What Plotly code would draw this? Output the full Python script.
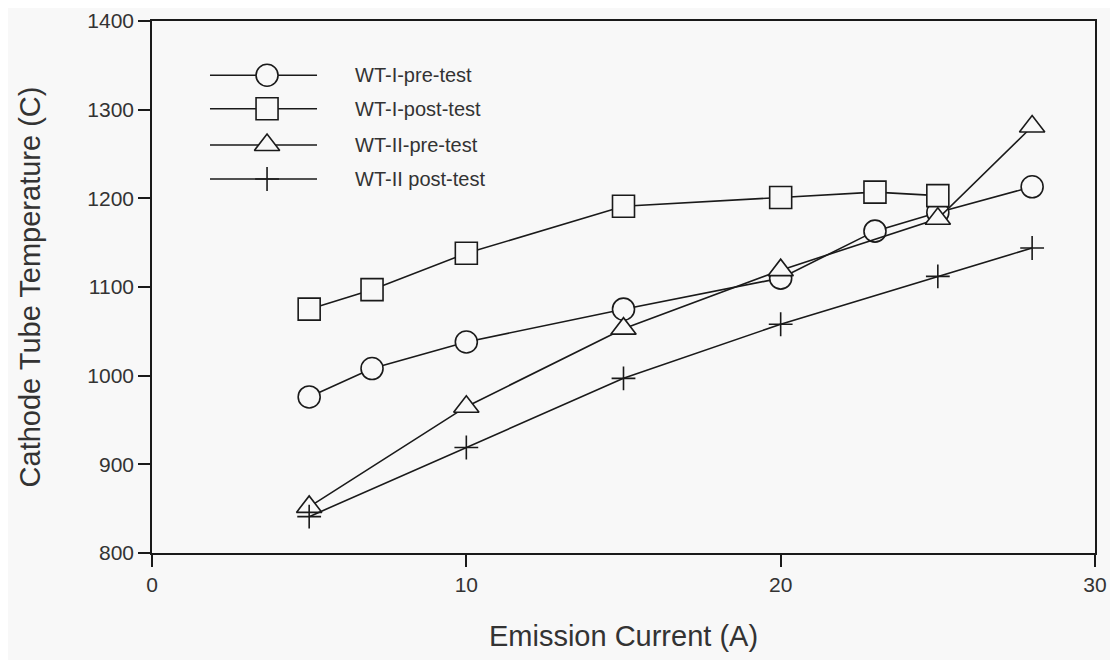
import plotly.graph_objects as go

# Data
x_wt1_pre = [5, 7, 10, 15, 20, 23, 25, 28]
y_wt1_pre = [976, 1008, 1038, 1075, 1110, 1163, 1184, 1213]
x_wt1_post = [5, 7, 10, 15, 20, 23, 25]
y_wt1_post = [1075, 1097, 1138, 1191, 1201, 1207, 1203]
x_wt2_pre = [5, 10, 15, 20, 25, 28]
y_wt2_pre = [852, 965, 1053, 1119, 1177, 1281]
x_wt2_post = [5, 10, 15, 20, 25, 28]
y_wt2_post = [841, 919, 997, 1058, 1112, 1144]

names = ["WT-I-pre-test", "WT-I-post-test", "WT-II-pre-test", "WT-II post-test"]
symbols = ["circle", "square", "triangle-up", "cross-thin"]
sizes = [22, 22, 22, 17]
series = [(x_wt1_pre, y_wt1_pre), (x_wt1_post, y_wt1_post),
          (x_wt2_pre, y_wt2_pre), (x_wt2_post, y_wt2_post)]

INK = "#1a1a1a"
BG = "#f8f8f8"


def marker_for(sym, sz):
    fill = INK if sym == "cross-thin" else BG
    return dict(symbol=sym, size=sz, color=fill, line=dict(color=INK, width=1.6))


fig = go.Figure()
for (xs, ys), nm, sym, sz in zip(series, names, symbols, sizes):
    fig.add_trace(go.Scatter(
        x=xs, y=ys, name=nm, mode="lines+markers",
        line=dict(color=INK, width=1.6),
        marker=marker_for(sym, sz),
        showlegend=False))

# Manual legend on an overlay axis (0..1 in plot area)
leg_y = [0.898, 0.835, 0.767, 0.703]
for ly, nm, sym, sz in zip(leg_y, names, symbols, sizes):
    fig.add_trace(go.Scatter(
        x=[0.0615, 0.122, 0.175], y=[ly, ly, ly], mode="lines",
        line=dict(color=INK, width=1.6), xaxis="x2", yaxis="y2",
        showlegend=False, hoverinfo="skip"))
    fig.add_trace(go.Scatter(
        x=[0.122], y=[ly], mode="markers",
        marker=marker_for(sym, sz),
        xaxis="x2", yaxis="y2", showlegend=False, hoverinfo="skip"))
    fig.add_annotation(x=0.213, y=ly, xref="x2", yref="y2", text=nm,
                       showarrow=False, xanchor="left", yanchor="middle",
                       font=dict(size=20, color="#333333"))

font_family = "Liberation Sans, Arial, Helvetica, sans-serif"
fig.update_layout(
    width=1102, height=652,
    margin=dict(l=144, r=15, t=13, b=107),
    paper_bgcolor=BG, plot_bgcolor=BG,
    font=dict(family=font_family, color="#333333"),
    xaxis=dict(range=[0, 30], tickvals=[0, 10, 20, 30], showgrid=False,
               zeroline=False, showline=True, linecolor=INK, linewidth=1.6,
               mirror=True, ticks="outside", ticklen=12, tickcolor=INK,
               tickwidth=1.6, tickfont=dict(size=21), automargin=False,
               ticklabeloverflow="allow",
               title=dict(text="Emission Current (A)", font=dict(size=29),
                          standoff=31)),
    yaxis=dict(range=[800, 1400], tickvals=[800, 900, 1000, 1100, 1200, 1300, 1400],
               showgrid=False, zeroline=False, showline=True, linecolor=INK,
               linewidth=1.6, mirror=True, ticks="outside", ticklen=12,
               tickcolor=INK, tickwidth=1.6, tickfont=dict(size=21),
               automargin=False, ticklabeloverflow="allow",
               title=dict(text="Cathode Tube Temperature (C)", font=dict(size=29),
                          standoff=38)),
    xaxis2=dict(range=[0, 1], overlaying="x", visible=False, fixedrange=True),
    yaxis2=dict(range=[0, 1], overlaying="y", visible=False, fixedrange=True),
)

fig.write_html("out.html")
